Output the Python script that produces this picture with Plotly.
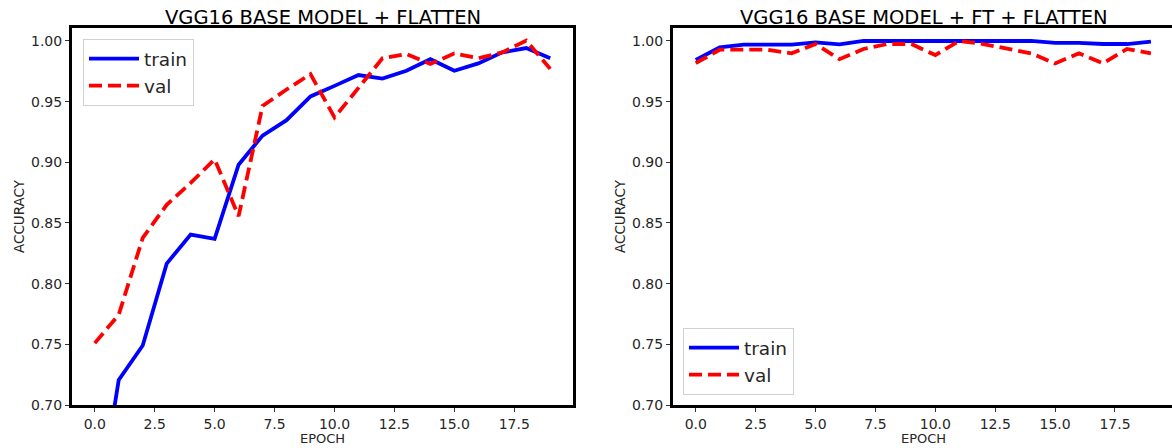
import plotly.graph_objects as go

epochs = list(range(20))

left_train = [0.597, 0.7207, 0.749, 0.8165, 0.8405, 0.837, 0.898, 0.922, 0.9347, 0.9543,
              0.963, 0.9719, 0.969, 0.9755, 0.985, 0.9755, 0.9815, 0.9906, 0.9942, 0.9857]
left_val = [0.751, 0.7744, 0.8377, 0.865, 0.883, 0.9025, 0.8556, 0.9465, 0.960, 0.9727,
            0.937, 0.9617, 0.9857, 0.9893, 0.981, 0.9898, 0.9857, 0.9906, 1.0003, 0.977]

right_train = [0.9843, 0.9948, 0.997, 0.997, 0.997, 0.9989, 0.9972, 1.0, 0.9998, 1.0,
               1.0, 1.0, 1.0, 0.9995, 1.0, 0.9985, 0.9985, 0.9975, 0.9975, 0.9995]
right_val = [0.9818, 0.9928, 0.9928, 0.9928, 0.9898, 0.9975, 0.985, 0.9934, 0.9975, 0.9975,
             0.9884, 1.0, 0.9975, 0.994, 0.9898, 0.9815, 0.9898, 0.9815, 0.9934, 0.9898]

titles = ["VGG16 BASE MODEL + FLATTEN", "VGG16 BASE MODEL + FT + FLATTEN"]
x_label = "EPOCH"
y_label = "ACCURACY"
x_ticks = [0, 2.5, 5, 7.5, 10, 12.5, 15, 17.5]
y_ticks = [0.70, 0.75, 0.80, 0.85, 0.90, 0.95, 1.00]

W, H = 1172, 448
FONT = "DejaVu Sans"
TXT = "#262626"

fig = go.Figure()
lw = 3.8
DASH = "13px,6px"
fig.add_trace(go.Scatter(x=epochs, y=left_train, mode="lines", name="train",
                         line=dict(color="#0000ff", width=lw), xaxis="x", yaxis="y", legend="legend"))
fig.add_trace(go.Scatter(x=epochs, y=left_val, mode="lines", name="val",
                         line=dict(color="#ff0000", width=lw, dash=DASH), xaxis="x", yaxis="y", legend="legend"))
fig.add_trace(go.Scatter(x=epochs, y=right_train, mode="lines", name="train",
                         line=dict(color="#0000ff", width=lw), xaxis="x2", yaxis="y2", legend="legend2"))
fig.add_trace(go.Scatter(x=epochs, y=right_val, mode="lines", name="val",
                         line=dict(color="#ff0000", width=lw, dash=DASH), xaxis="x2", yaxis="y2", legend="legend2"))

y_top = 1 - 28 / H
y_bot = 1 - 405 / H

axis_common = dict(showline=True, linecolor="black", linewidth=3, mirror=True,
                   ticks="outside", ticklen=4, tickwidth=1, tickcolor="#333",
                   showgrid=False, zeroline=False, automargin=False,
                   tickfont=dict(family=FONT, size=14, color=TXT))

xa = dict(axis_common, tickvals=x_ticks, tickformat=".1f")
ya = dict(axis_common, tickvals=y_ticks, tickformat=".2f", range=[0.70, 1.0107])

legend_common = dict(bgcolor="white", bordercolor="#d0d0d0", borderwidth=1,
                     font=dict(family=FONT, size=18.5, color=TXT), tracegroupgap=0,
                     itemwidth=50)

fig.update_layout(
    width=W, height=H,
    margin=dict(l=0, r=0, t=0, b=0, autoexpand=False),
    paper_bgcolor="white", plot_bgcolor="white",
    font=dict(family=FONT, color=TXT),
    xaxis=dict(xa, domain=[72 / W, 573 / W], range=[-0.95, 19.95], anchor="y"),
    yaxis=dict(ya, domain=[y_bot, y_top], anchor="x"),
    xaxis2=dict(xa, domain=[673 / W, 1.0], range=[-0.95, 19.88], anchor="y2"),
    yaxis2=dict(ya, domain=[y_bot, y_top], anchor="x2"),
    legend=dict(legend_common, x=83 / W, y=1 - 39 / H, xanchor="left", yanchor="top"),
    legend2=dict(legend_common, x=683 / W, y=1 - 395 / H, xanchor="left", yanchor="bottom"),
    showlegend=True,
)

centers = [(72 + 573) / 2 / W, (673 + 1174) / 2 / W]
ylab_x = [19 / W, 620 / W]
for t, cx, yx in zip(titles, centers, ylab_x):
    fig.add_annotation(text=t, x=cx, y=1 - 17 / H, xref="paper", yref="paper",
                       xanchor="center", yanchor="middle", showarrow=False,
                       font=dict(family=FONT, size=19.5, color="black"))
    fig.add_annotation(text=x_label, x=cx, y=1 - 448 / H, xref="paper", yref="paper",
                       xanchor="center", yanchor="bottom", showarrow=False,
                       font=dict(family=FONT, size=13, color=TXT))
    fig.add_annotation(text=y_label, x=yx, y=1 - 216 / H, xref="paper", yref="paper",
                       xanchor="center", yanchor="middle", showarrow=False, textangle=-90,
                       font=dict(family=FONT, size=13.5, color=TXT))

fig.write_html("out.html")
